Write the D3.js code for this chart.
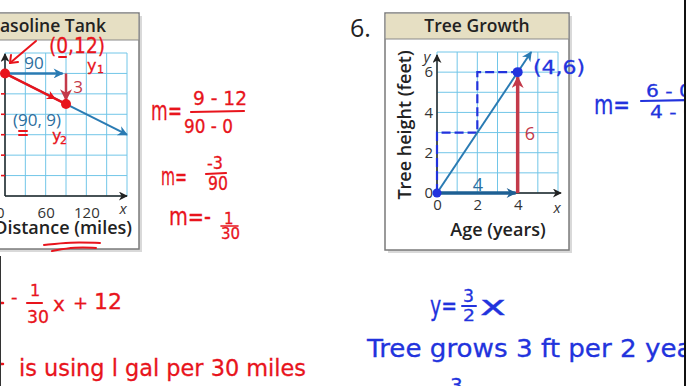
<!DOCTYPE html>
<html><head><meta charset="utf-8">
<script src="https://cdn.jsdelivr.net/npm/d3@7"></script>
<style>
html,body{margin:0;padding:0;background:#fff;}
svg{display:block;}
.book{font-family:"Open Sans","Noto Sans",sans-serif;}
.hand{font-family:"DejaVu Sans","Liberation Sans",sans-serif;}
</style></head>
<body>
<svg id="c" width="686" height="386"></svg>
<script>
// ---------- data ----------
// Gasoline Tank (distance in miles, gallons)
const gasGridX = [0, 30, 60, 90, 120, 150, 180];
const gasGridY = [0, 2, 4, 6, 8, 10, 12, 14];
const gasTickX = [0, 60, 120];
const gasTickY = [2, 4, 6, 8, 10];
const gasLine = [[0, 12], [180, 6]];
const gasRun = [[0, 12], [85, 12]];
const gasRise = [[90, 12], [90, 9.4]];
const gasHand = [[0, 12], [90, 9]];
const gasPoints = [[0, 12], [90, 9]];
// Tree Growth (age in years, height in feet)
const treeGridX = [0, 1, 2, 3, 4, 5, 6];
const treeGridY = [0, 1, 2, 3, 4, 5, 6, 7];
const treeTickX = [0, 2, 4];
const treeTickY = [0, 2, 4, 6];
const treeLine = [[0, 0], [4.67, 7]];
const treeRun = [[0, 0], [3.9, 0]];
const treeRise = [[4, 0], [4, 5.75]];
const treeDash = [[0, 0], [0, 3], [2, 3], [2, 6], [4, 6]];
const treePoints = [[0, 0], [4, 6]];

// ---------- setup ----------
const svg = d3.select("#c");
const RED = "#e8141c", HBLUE = "#2233dd", BBLUE = "#2a7bb3", DBLUE = "#1d5f93", BRED = "#c33a4a";
const GRID = "#72c6e8";
const defs = svg.append("defs");
function marker(id, color, w, h) {
  defs.append("marker").attr("id", id).attr("viewBox", "0 0 10 10")
    .attr("refX", 9).attr("refY", 5).attr("markerWidth", w).attr("markerHeight", h)
    .attr("markerUnits", "userSpaceOnUse").attr("orient", "auto")
    .append("path").attr("d", "M0,0 L10,5 L0,10 L3,5 Z").attr("fill", color);
}
marker("aBlack", "#222", 13, 9);
marker("aBlue", BBLUE, 14, 10);
marker("aDBlue", DBLUE, 14, 10);
marker("aBRed", BRED, 12, 12);
marker("aRed", RED, 11, 9);

function panel(x0, x1, y0, y1, bandBottom) {
  svg.append("rect").attr("x", x0 + 3).attr("y", y0 + 3).attr("width", x1 - x0).attr("height", y1 - y0).attr("fill", "#d9d9d9");
  svg.append("rect").attr("x", x0).attr("y", y0).attr("width", x1 - x0).attr("height", y1 - y0)
    .attr("fill", "#fff").attr("stroke", "#7a7a7a").attr("stroke-width", 1.5);
  svg.append("rect").attr("x", x0 + 0.75).attr("y", y0 + 0.75).attr("width", x1 - x0 - 1.5).attr("height", bandBottom - y0 - 0.75)
    .attr("fill", "#e6dfc3");
  svg.append("line").attr("x1", x0).attr("x2", x1).attr("y1", bandBottom).attr("y2", bandBottom).attr("stroke", "#8a8a8a").attr("stroke-width", 1.2);
}
const line = (sx, sy) => d3.line().x(d => sx(d[0])).y(d => sy(d[1]));
const hand = (x, y, s, c, t, opt = {}) => {
  const e = svg.append("text").attr("class", "hand").attr("x", x).attr("y", y).attr("font-size", s)
    .attr("fill", c).attr("stroke", c).attr("stroke-width", 0.3).text(t);
  if (opt.anchor) e.attr("text-anchor", opt.anchor);
  if (opt.len) e.attr("textLength", opt.len).attr("lengthAdjust", "spacingAndGlyphs");
  return e;
};
const stroke = (pts, c, w = 2) => svg.append("path").attr("d", d3.line().curve(d3.curveBasis)(pts)).attr("fill", "none").attr("stroke", c).attr("stroke-width", w).attr("stroke-linecap", "round");

// ---------- Gasoline Tank ----------
panel(-220, 139, 13, 249, 40);
svg.append("text").attr("class", "book").attr("x", 106).attr("y", 32).attr("text-anchor", "end")
  .attr("font-size", 17.5).attr("font-weight", 600).attr("fill", "#222").text("Gasoline Tank");
const gx = d3.scaleLinear([0, 180], [5, 127]);
const gy = d3.scaleLinear([0, 14], [196, 53]);
svg.selectAll(".vx").data(gasGridX).join("line").attr("x1", gx).attr("x2", gx).attr("y1", gy(0)).attr("y2", gy(14)).attr("stroke", GRID).attr("stroke-width", 1);
svg.selectAll(".hy").data(gasGridY).join("line").attr("y1", gy).attr("y2", gy).attr("x1", gx(0)).attr("x2", gx(180)).attr("stroke", GRID).attr("stroke-width", 1);
svg.append("line").attr("x1", gx(0)).attr("x2", gx(180)).attr("y1", gy(0)).attr("y2", gy(0)).attr("stroke", "#222").attr("stroke-width", 1.5).attr("marker-end", "url(#aBlack)");
svg.append("line").attr("x1", gx(0)).attr("x2", gx(0)).attr("y1", gy(0)).attr("y2", 54).attr("stroke", "#222").attr("stroke-width", 1.5).attr("marker-end", "url(#aBlack)");
const gAx = svg.append("g").attr("transform", `translate(0,${gy(0)})`)
  .call(d3.axisBottom(gx).tickValues(gasTickX).tickSize(0).tickPadding(11).tickFormat(d3.format("d")));
gAx.select(".domain").remove();
gAx.selectAll("text").attr("font-size", 15).attr("fill", "#333").attr("font-family", "Open Sans");
gAx.selectAll(".tick").filter(d => d === 0).select("text").attr("text-anchor", "end").attr("dx", -1);
svg.append("text").attr("class", "book").attr("x", 123).attr("y", 214).attr("text-anchor", "middle").attr("font-size", 15).attr("font-style", "italic").attr("fill", "#333").text("x");
svg.append("text").attr("class", "book").attr("x", 132).attr("y", 234).attr("text-anchor", "end").attr("font-size", 18).attr("font-weight", 600).attr("fill", "#222").text("Distance (miles)");
svg.selectAll(".rt").data(gasTickY).join("line").attr("x1", 1).attr("x2", 5).attr("y1", gy).attr("y2", gy).attr("stroke", RED).attr("stroke-width", 1.6);
svg.append("path").attr("d", line(gx, gy)(gasLine)).attr("fill", "none").attr("stroke", BBLUE).attr("stroke-width", 2).attr("marker-end", "url(#aBlue)");
svg.append("path").attr("d", line(gx, gy)(gasRun)).attr("fill", "none").attr("stroke", BBLUE).attr("stroke-width", 2.5).attr("marker-end", "url(#aBlue)");
svg.append("path").attr("d", line(gx, gy)(gasRise)).attr("fill", "none").attr("stroke", BRED).attr("stroke-width", 2.5).attr("marker-end", "url(#aBRed)");
const hp = gasHand.map(d => [gx(d[0]), gy(d[1])]);
svg.append("path").attr("d", d3.line()(hp)).attr("fill", "none").attr("stroke", RED).attr("stroke-width", 2.4);
svg.append("path").attr("d", d3.line()([hp[0], [hp[0][0] + (hp[1][0] - hp[0][0]) * 0.82, hp[0][1] + (hp[1][1] - hp[0][1]) * 0.82]]))
  .attr("fill", "none").attr("stroke", "none").attr("marker-end", "url(#aRed)");
svg.selectAll(".gp").data(gasPoints).join("circle").attr("cx", d => gx(d[0])).attr("cy", d => gy(d[1])).attr("r", 5).attr("fill", RED);
svg.append("text").attr("class", "book").attr("x", 34).attr("y", 69).attr("text-anchor", "middle").attr("font-size", 17).attr("fill", "#2c6e9e").text("90");
svg.append("text").attr("class", "book").attr("x", 78).attr("y", 93).attr("text-anchor", "middle").attr("font-size", 17).attr("fill", BRED).text("3");
svg.append("text").attr("class", "book").attr("x", 37).attr("y", 126).attr("text-anchor", "middle").attr("font-size", 17).attr("fill", "#2c6e9e").text("(90, 9)");
// red handwriting on gas chart
hand(49, 53, 21, RED, "(0,12)", { len: 56 });
stroke([[59, 57], [66, 57]], RED);
hand(87, 71, 16, RED, "y", {});
hand(97, 73, 11, RED, "1", {});
stroke([[36, 41], [10, 63]], RED, 2);
stroke([[10, 63], [11, 55]], RED, 2);
stroke([[10, 63], [18, 62]], RED, 2);
stroke([[19, 131], [27, 131]], RED);
stroke([[19, 135], [27, 135]], RED);
hand(52, 141, 16, RED, "y", {});
hand(60, 144, 11, RED, "2", {});
stroke([[44, 245], [70, 242], [100, 243]], RED, 2);
stroke([[52, 251], [75, 247], [96, 248]], RED, 2);
// slope work (red)
hand(151, 120, 26, RED, "m=", { len: 31 });
hand(193, 105, 19, RED, "9 - 12", { len: 54 });
stroke([[191, 112], [244, 111]], RED, 2.2);
hand(184, 133, 19, RED, "90 - 0", { len: 49 });
hand(161, 185, 24, RED, "m=", { len: 26 });
hand(207, 169, 17, RED, "-3", { len: 16 });
stroke([[206, 174], [226, 173]], RED, 2.2);
hand(208, 190, 19, RED, "90", { len: 20 });
hand(169, 225, 24, RED, "m=-", { len: 42 });
hand(224, 224, 15, RED, "1", {});
stroke([[221, 226], [238, 226]], RED, 1.6);
hand(221, 239, 16, RED, "30", { len: 19 });
// bottom-left red
stroke([[1, 303], [3, 303]], RED, 2.5);
hand(11, 303, 18, RED, "-", {});
hand(30, 296, 16, RED, "1", {});
stroke([[27, 303], [42, 303]], RED, 2.2);
hand(27, 323, 18, RED, "30", { len: 22 });
hand(53, 311, 20, RED, "x", {});
hand(73, 309, 18, RED, "+", {});
hand(94, 309, 21, RED, "12", { len: 28 });
stroke([[1, 364], [3, 364]], RED, 2.5);
hand(19, 376, 23, RED, "is using  l gal  per 30 miles", { len: 287 });

// ---------- Tree Growth ----------
svg.append("text").attr("class", "book").attr("x", 350).attr("y", 37).attr("font-size", 25).attr("fill", "#222").text("6.");
panel(385, 569, 13, 250, 39);
svg.append("text").attr("class", "book").attr("x", 477).attr("y", 32).attr("text-anchor", "middle")
  .attr("font-size", 17.5).attr("font-weight", 600).attr("fill", "#222").text("Tree Growth");
const tx = d3.scaleLinear([0, 6], [437, 558]);
const ty = d3.scaleLinear([0, 7], [193, 52]);
svg.selectAll(".tvx").data(treeGridX).join("line").attr("x1", tx).attr("x2", tx).attr("y1", ty(0)).attr("y2", ty(7)).attr("stroke", GRID).attr("stroke-width", 1);
svg.selectAll(".thy").data(treeGridY).join("line").attr("y1", ty).attr("y2", ty).attr("x1", tx(0)).attr("x2", tx(6)).attr("stroke", GRID).attr("stroke-width", 1);
svg.append("line").attr("x1", tx(0)).attr("x2", 561).attr("y1", ty(0)).attr("y2", ty(0)).attr("stroke", "#222").attr("stroke-width", 1.5).attr("marker-end", "url(#aBlack)");
svg.append("line").attr("x1", tx(0)).attr("x2", tx(0)).attr("y1", ty(0)).attr("y2", 55).attr("stroke", "#222").attr("stroke-width", 1.5).attr("marker-end", "url(#aBlack)");
const tAx = svg.append("g").attr("transform", `translate(0,${ty(0)})`)
  .call(d3.axisBottom(tx).tickValues(treeTickX).tickSize(0).tickPadding(6).tickFormat(d3.format("d")));
tAx.select(".domain").remove();
tAx.selectAll("text").attr("font-size", 15).attr("fill", "#333").attr("font-family", "Open Sans");
const tAy = svg.append("g").attr("transform", `translate(${tx(0)},0)`)
  .call(d3.axisLeft(ty).tickValues(treeTickY).tickSize(0).tickPadding(4).tickFormat(d3.format("d")));
tAy.select(".domain").remove();
tAy.selectAll("text").attr("font-size", 15).attr("fill", "#333").attr("font-family", "Open Sans");
svg.append("text").attr("class", "book").attr("x", 557).attr("y", 213).attr("text-anchor", "middle").attr("font-size", 15).attr("font-style", "italic").attr("fill", "#333").text("x");
svg.append("text").attr("class", "book").attr("x", 427).attr("y", 62).attr("text-anchor", "middle").attr("font-size", 15).attr("font-style", "italic").attr("fill", "#333").text("y");
svg.append("text").attr("class", "book").attr("x", 498).attr("y", 236).attr("text-anchor", "middle").attr("font-size", 18).attr("font-weight", 600).attr("fill", "#222").text("Age (years)");
svg.append("text").attr("class", "book").attr("transform", "translate(411,125) rotate(-90)").attr("text-anchor", "middle").attr("font-size", 18).attr("font-weight", 600).attr("fill", "#222").text("Tree height (feet)");
svg.append("path").attr("d", line(tx, ty)(treeDash)).attr("fill", "none").attr("stroke", HBLUE).attr("stroke-width", 2.2).attr("stroke-dasharray", "9,4");
svg.append("path").attr("d", line(tx, ty)(treeLine)).attr("fill", "none").attr("stroke", BBLUE).attr("stroke-width", 2).attr("marker-end", "url(#aBlue)");
svg.append("path").attr("d", line(tx, ty)(treeRun)).attr("fill", "none").attr("stroke", DBLUE).attr("stroke-width", 3.5).attr("marker-end", "url(#aDBlue)");
svg.append("path").attr("d", line(tx, ty)(treeRise)).attr("fill", "none").attr("stroke", BRED).attr("stroke-width", 3.5).attr("marker-end", "url(#aBRed)");
svg.selectAll(".tp").data(treePoints).join("circle").attr("cx", d => tx(d[0])).attr("cy", d => ty(d[1])).attr("r", (d, i) => i ? 5 : 4.5).attr("fill", HBLUE);
svg.append("text").attr("class", "book").attr("x", 478).attr("y", 191).attr("text-anchor", "middle").attr("font-size", 18).attr("fill", "#2c6e9e").text("4");
svg.append("text").attr("class", "book").attr("x", 530).attr("y", 140).attr("text-anchor", "middle").attr("font-size", 18).attr("fill", BRED).text("6");
hand(533, 74, 20, HBLUE, "(4,6)", { len: 52 });
// right-side blue
hand(594, 114, 26, HBLUE, "m=", { len: 36 });
hand(646, 97, 18, HBLUE, "6 - 0", { len: 46 });
stroke([[641, 101], [690, 100]], HBLUE, 2.2);
hand(650, 118, 18, HBLUE, "4 - 0", { len: 46 });
// bottom-right blue
hand(430, 315, 26, HBLUE, "y=", { len: 27 });
hand(463, 302, 17, HBLUE, "3", { len: 11 });
stroke([[462, 306], [476, 306]], HBLUE, 2);
hand(463, 321, 16, HBLUE, "2", { len: 12 });
hand(480, 315, 26, HBLUE, "x", { len: 26 });
hand(367, 357, 24, HBLUE, "Tree grows  3 ft  per  2 years", { len: 350 });
hand(450, 392, 20, HBLUE, "3", {});
// page edges
svg.append("rect").attr("x", 684).attr("y", 0).attr("width", 2).attr("height", 386).attr("fill", "#111");
svg.append("line").attr("x1", 0.5).attr("x2", 0.5).attr("y1", 256).attr("y2", 386).attr("stroke", "#333").attr("stroke-width", 1);
</script>
</body></html>
